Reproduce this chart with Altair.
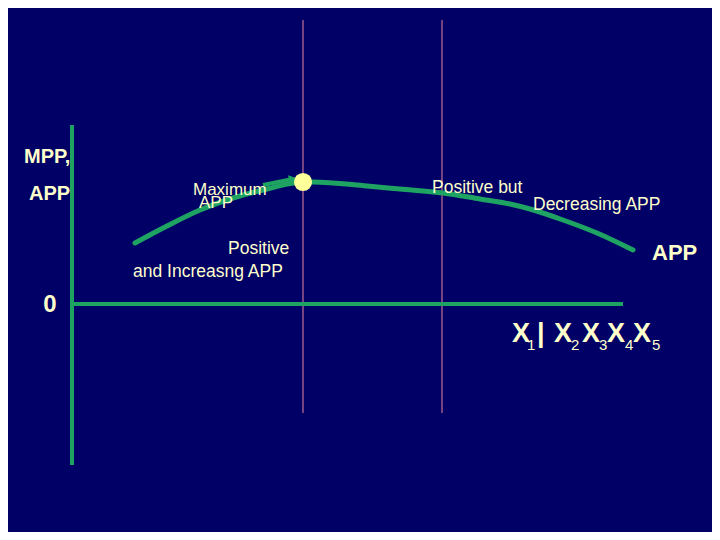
import altair as alt
import pandas as pd

# ---- data (x: input units from origin, y: product units from origin) ----
app_x = [63, 95, 128, 161, 195, 231, 241, 295, 328, 371, 408, 438, 458, 491, 525, 561]
app_y = [61, 78, 94, 106, 115, 122, 122, 118, 115, 111, 105, 100, 95, 84, 71, 54]

max_x = [231]
max_y = [122]

stage_lines_x = [231, 370]
stage_top, stage_bottom = 284, -109

axis_x_end = 551
axis_y_top, axis_y_bottom = 179, -161

arrow_x = [191, 221]
arrow_y = [119, 125]

big_labels = ["MPP,", "APP"]
big_lx = [-48, -43]
big_ly = [141, 104]

mid_labels = ["Positive", "and Increasng APP", "Positive but", "Decreasing APP"]
mid_lx = [156, 61, 360, 461]
mid_ly = [50, 27, 111, 94]

max_labels = ["Maximum", "APP"]
max_lx = [121, 127]
max_ly = [109, 96]

x_letters = ["X", "|", "X", "X", "X", "X"]
x_letters_x = [440, 465, 482, 510, 535, 561]
x_letters_y = [-38] * 6
x_subs = ["1", "2", "3", "4", "5"]
x_subs_x = [455, 499, 527, 553, 580]
x_subs_y = [-46] * 5

BG = "#000066"
GREEN = "#1FA363"
TEXT = "#FFFFCC"
STAGE = "#9E5A8C"

xs = alt.Scale(domain=[-64, 640], nice=False, zero=False)
ys = alt.Scale(domain=[-228, 296], nice=False, zero=False)
X = lambda f: alt.X(f, type="quantitative", scale=xs, axis=None)
Y = lambda f: alt.Y(f, type="quantitative", scale=ys, axis=None)

stage_df = pd.DataFrame({"x": stage_lines_x, "y": [stage_top] * 2, "y2": [stage_bottom] * 2})
stages = alt.Chart(stage_df).mark_rule(color=STAGE, strokeWidth=1.5).encode(
    x=X("x"), y=Y("y"), y2="y2")

axes_df = pd.DataFrame({"x": [0, 0], "x2": [0, axis_x_end], "y": [axis_y_top, 0], "y2": [axis_y_bottom, 0]})
axes = alt.Chart(axes_df).mark_rule(color=GREEN, strokeWidth=4).encode(
    x=X("x"), x2="x2", y=Y("y"), y2="y2")

app_df = pd.DataFrame({"x": app_x, "y": app_y})
curve = alt.Chart(app_df).mark_line(color=GREEN, strokeWidth=5, interpolate="monotone", strokeCap="round").encode(
    x=X("x"), y=Y("y"))

arrow_df = pd.DataFrame({"x": arrow_x, "y": arrow_y})
arrow = alt.Chart(arrow_df).mark_line(color=GREEN, strokeWidth=4).encode(x=X("x"), y=Y("y"))
head = alt.Chart(arrow_df.tail(1)).mark_point(shape="triangle-right", filled=True, color=GREEN,
                                               size=90, opacity=1, angle=349).encode(x=X("x"), y=Y("y"))

dot = alt.Chart(pd.DataFrame({"x": max_x, "y": max_y})).mark_point(
    filled=True, color="#FFFF99", size=330, opacity=1).encode(x=X("x"), y=Y("y"))

def texts(labels, lx, ly, size, weight="normal", align="left"):
    df = pd.DataFrame({"t": labels, "x": lx, "y": ly})
    return alt.Chart(df).mark_text(align=align, baseline="alphabetic", color=TEXT, fontSize=size,
                                   font="Liberation Sans", fontWeight=weight).encode(
        x=X("x"), y=Y("y"), text="t")

t_big = texts(big_labels, big_lx, big_ly, 20, "bold")
t_zero = texts(["0"], [-22], [-8], 24, "bold", "center")
t_app = texts(["APP"], [580], [44], 22, "bold")
t_mid = texts(mid_labels, mid_lx, mid_ly, 17.5)
t_max = texts(max_labels, max_lx, max_ly, 17)
t_x = texts(x_letters, x_letters_x, x_letters_y, 27, "bold")
t_sub = texts(x_subs, x_subs_x, x_subs_y, 15)

chart = alt.layer(stages, axes, curve, arrow, head, dot, t_big, t_zero, t_app, t_mid, t_max, t_x, t_sub).properties(
    width=704, height=524, background=BG, padding=0, autosize=alt.AutoSizeParams(type="none")
).configure_view(stroke=None)

chart.save("out.html", embed_options={"renderer": "svg", "actions": False})
